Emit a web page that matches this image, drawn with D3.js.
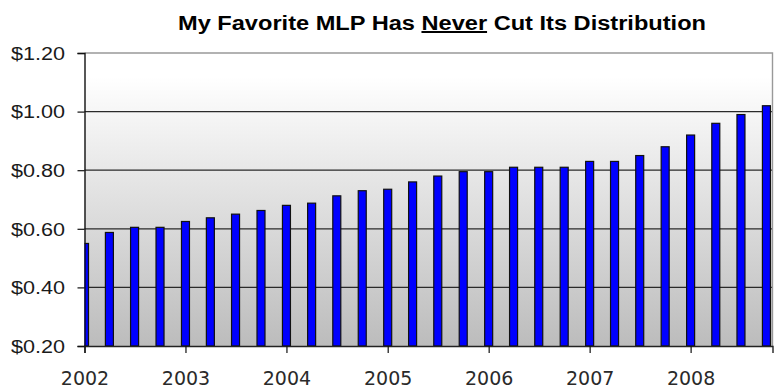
<!DOCTYPE html>
<html>
<head>
<meta charset="utf-8">
<script src="https://cdn.jsdelivr.net/npm/d3@7"></script>
<style>
  html, body { margin: 0; padding: 0; background: #fff; }
  svg { display: block; }
</style>
</head>
<body>
<svg id="chart" width="774" height="390"></svg>
<script>
// ---- data ----
const quarters = [
  "2002-01-01","2002-04-01","2002-07-01","2002-10-01",
  "2003-01-01","2003-04-01","2003-07-01","2003-10-01",
  "2004-01-01","2004-04-01","2004-07-01","2004-10-01",
  "2005-01-01","2005-04-01","2005-07-01","2005-10-01",
  "2006-01-01","2006-04-01","2006-07-01","2006-10-01",
  "2007-01-01","2007-04-01","2007-07-01","2007-10-01",
  "2008-01-01","2008-04-01","2008-07-01","2008-10-01"
];
const distributions = [
  0.55, 0.5875, 0.605, 0.605,
  0.625, 0.6375, 0.65, 0.6625,
  0.68, 0.6875, 0.7125, 0.73,
  0.735, 0.76, 0.78, 0.795,
  0.795, 0.81, 0.81, 0.81,
  0.83, 0.83, 0.85, 0.88,
  0.92, 0.96, 0.99, 1.02
];
const yTicks = [0.20, 0.40, 0.60, 0.80, 1.00, 1.20];
const yearTicks = ["2002","2003","2004","2005","2006","2007","2008"];
const titleParts = ["My Favorite MLP Has ", "Never", " Cut Its Distribution"];

// ---- layout ----
const svg = d3.select("#chart");
const pLeft = 84.5, pRight = 772.5, pTop = 53, pBottom = 346;
const parse = d3.timeParse("%Y-%m-%d");

const x = d3.scaleTime()
  .domain([parse("2002-01-01"), parse("2008-10-23")])
  .range([pLeft, pRight]);
const y = d3.scaleLinear().domain([0.2, 1.2]).range([pBottom, pTop]);

// background gradient
const defs = svg.append("defs");
const grad = defs.append("linearGradient")
  .attr("id", "bg").attr("x1", 0).attr("y1", 0).attr("x2", 0).attr("y2", 1);
grad.append("stop").attr("offset", "0%").attr("stop-color", "#ffffff");
grad.append("stop").attr("offset", "8%").attr("stop-color", "#ffffff");
grad.append("stop").attr("offset", "100%").attr("stop-color", "#bcbcbc");

defs.append("clipPath").attr("id", "plotclip")
  .append("rect").attr("x", pLeft).attr("y", pTop - 2)
  .attr("width", pRight - pLeft).attr("height", pBottom - pTop + 2);

svg.append("rect")
  .attr("x", pLeft).attr("y", pTop)
  .attr("width", pRight - pLeft).attr("height", pBottom - pTop)
  .attr("fill", "url(#bg)");

// gridlines
svg.append("g").selectAll("line")
  .data(yTicks.filter(d => d > 0.2 && d < 1.2))
  .join("line")
  .attr("x1", pLeft).attr("x2", pRight)
  .attr("y1", d => y(d)).attr("y2", d => y(d))
  .attr("stroke", "#2a2a2a").attr("stroke-width", 1.2);

// plot border (top and right)
svg.append("path")
  .attr("d", `M${pLeft},${y(1.2)}H${pRight}V${pBottom}`)
  .attr("fill", "none").attr("stroke", "#999").attr("stroke-width", 1.4);

// bars
const barW = 8;
svg.append("g").attr("clip-path", "url(#plotclip)")
  .selectAll("rect")
  .data(quarters.map((q, i) => ({ date: parse(q), v: distributions[i] })))
  .join("rect")
  .attr("x", d => x(d.date) - barW / 2)
  .attr("y", d => y(d.v))
  .attr("width", barW)
  .attr("height", d => y(0.2) - y(d.v))
  .attr("fill", "#0000ff")
  .attr("stroke", "#111")
  .attr("stroke-width", 1.2);

// y axis
const yAxis = svg.append("g").attr("transform", `translate(${pLeft},0)`)
  .call(d3.axisLeft(y).tickValues(yTicks).tickSize(7).tickPadding(0)
    .tickFormat(d => "$" + d3.format(".2f")(d)));
yAxis.select(".domain").attr("stroke", "#111").attr("stroke-width", 1.4);
yAxis.selectAll(".tick line").attr("stroke", "#111").attr("stroke-width", 1.2);
yAxis.selectAll(".tick text")
  .attr("x", -19.5).attr("dy", "0.35em")
  .attr("font-family", "'Liberation Sans', Arial, sans-serif")
  .attr("font-size", 18).attr("fill", "#1a1a1a")
  .attr("textLength", 54).attr("lengthAdjust", "spacingAndGlyphs");

// x axis
const xAxis = svg.append("g").attr("transform", `translate(0,${pBottom})`)
  .call(d3.axisBottom(x)
    .tickValues(yearTicks.map(yy => parse(yy + "-01-01")))
    .tickSize(7).tickPadding(0)
    .tickFormat(d3.timeFormat("%Y")));
xAxis.select(".domain").attr("stroke", "#222").attr("stroke-width", 1.4);
xAxis.selectAll(".tick line").attr("stroke", "#111").attr("stroke-width", 1.2);
xAxis.selectAll(".tick text")
  .attr("y", 38.5).attr("dy", 0)
  .attr("font-family", "'DejaVu Sans', Verdana, sans-serif")
  .attr("font-size", 19).attr("fill", "#2a2a2a");

// title
const title = svg.append("text")
  .attr("x", 178).attr("y", 30)
  .attr("font-family", "'Liberation Sans', Arial, sans-serif")
  .attr("font-weight", "bold").attr("font-size", 20)
  .attr("fill", "#000")
  .attr("textLength", 528).attr("lengthAdjust", "spacingAndGlyphs")
  .attr("xml:space", "preserve");
title.selectAll("tspan").data(titleParts).join("tspan")
  .text(d => d)
  .attr("text-decoration", (d, i) => i === 1 ? "underline" : null);
</script>
</body>
</html>
